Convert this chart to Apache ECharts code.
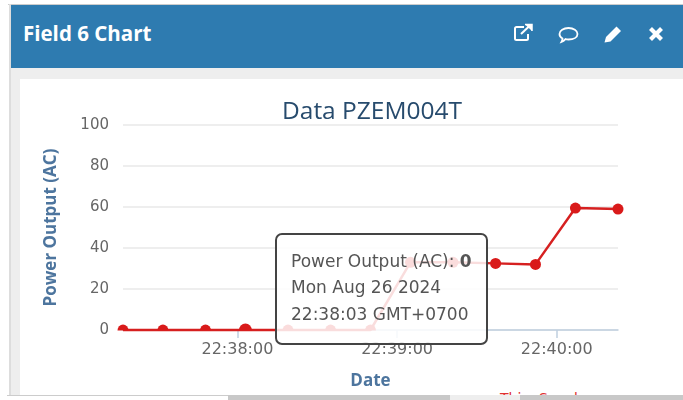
<!DOCTYPE html>
<html>
<head>
<meta charset="utf-8">
<title>Field 6 Chart</title>
<script src="https://cdn.jsdelivr.net/npm/echarts@6/dist/echarts.min.js"></script>
<style>
html, body { margin: 0; padding: 0; background: #fff; overflow: hidden; }
#page { position: relative; width: 683px; height: 400px; overflow: hidden; }
#topline { position: absolute; left: 8px; top: 4px; width: 675px; height: 1px; background: #ccc; }
#leftline { position: absolute; left: 9px; top: 4px; width: 2px; height: 391px; background: #ddd; }
#header { position: absolute; left: 11px; top: 5px; width: 672px; height: 63px; background: #2e7bb0; }
#header .name { position: absolute; left: 12px; top: 14px; color: #fff; font: bold 20.5px "Open Sans", sans-serif; }
#header svg { position: absolute; }
#body { position: absolute; left: 11px; top: 68px; width: 672px; height: 327px; background: #eee; }
#card { position: absolute; left: 20px; top: 79px; width: 663px; height: 316px; background: #fff; overflow: hidden; }
#credit { position: absolute; left: 480px; top: 311px; color: #e03030; font: 14px "DejaVu Sans", sans-serif; white-space: nowrap; }
#main { position: absolute; left: 0; top: 0; width: 683px; height: 400px; }
#bottomline { position: absolute; left: 7px; top: 395px; width: 221px; height: 1px; background: #ccc; }
#scrollbar { position: absolute; left: 228px; top: 395px; width: 455px; height: 5px; background: #c8c8c8; }
#thumb { position: absolute; left: 222px; top: 0; width: 70px; height: 5px; background: #eee; }
</style>
</head>
<body>
<div id="page">
  <div id="topline"></div>
  <div id="leftline"></div>
  <div id="body"></div>
  <div id="card"><div id="credit">ThingSpeak.com</div></div>
  <div id="header">
    <div class="name">Field 6 Chart</div>
    <svg style="left:502px;top:18px" width="22" height="20" viewBox="0 0 22 20" fill="none" stroke="#fff" stroke-width="2">
      <path d="M11 4H3.500a1.500 1.500 0 0 0-1.500 1.500V15.500a1.500 1.500 0 0 0 1.500 1.500H13.500a1.500 1.500 0 0 0 1.500-1.500V11"/>
      <path d="M8 11L17 2.500"/><path d="M12 1.500H19V8" fill="#fff" stroke-width="1.500"/>
    </svg>
    <svg style="left:547px;top:20px" width="22" height="20" viewBox="0 0 22 20" fill="none" stroke="#fff" stroke-width="1.800">
      <path d="M4.500 13.500C2.500 12.500 1.500 11 1.500 9C1.500 5.500 5.500 3 10.500 3S19.500 5.500 19.500 9S15.500 14.500 10.500 14.500C9.500 14.500 8.500 14.400 7.500 14.100C6.500 15.500 5 16.500 3.500 17C4.200 15.800 4.500 14.700 4.500 13.500Z"/>
    </svg>
    <svg style="left:592px;top:19px" width="20" height="20" viewBox="0 0 20 20" fill="#fff">
      <path d="M1.500 18.500L3 13L13.500 2.500L18 7L7.500 17.500Z"/>
    </svg>
    <svg style="left:637px;top:21px" width="16" height="16" viewBox="0 0 16 16" stroke="#fff" stroke-width="4.200">
      <path d="M2.500 2.500L13.500 13.500M13.500 2.500L2.500 13.500"/>
    </svg>
  </div>
  <div id="bottomline"></div>
  <div id="scrollbar"><div id="thumb"></div></div>
  <div id="main"></div>
</div>
<script>
var chartTitle = 'Data PZEM004T';
var seriesName = 'Power Output (AC)';
var xAxisName = 'Date';
var times = [
    '22:37:17', '22:37:32', '22:37:48', '22:38:03', '22:38:19', '22:38:35', '22:38:50',
    '22:39:05', '22:39:21', '22:39:37', '22:39:52', '22:40:07', '22:40:23'
];
var powerValues = [0, 0, 0, 0, 0, 0, 0, 33, 33, 32.5, 32, 59.5, 59];
var tickTimes = ['22:38:00', '22:39:00', '22:40:00'];
var activeIndex = 3;
var tipDate = 'Mon Aug 26 2024';
var tipZone = 'GMT+0700';

var datePrefix = '2024-08-26T';
var toMs = function (t) { return new Date(datePrefix + t).getTime(); };
var halfDot = 'path://M0 10A10 10 0 0 1 20 10Z';
var pad = function (n) { return (n < 10 ? '0' : '') + n; };
var clock = function (ms) {
    var d = new Date(ms);
    return pad(d.getHours()) + ':' + pad(d.getMinutes()) + ':' + pad(d.getSeconds());
};

var seriesData = [];
for (var i = 0; i < times.length; i++) {
    var item = { value: [toMs(times[i]), powerValues[i]] };
    // points sitting on the zero line are cut off by the plot edge
    if (powerValues[i] === 0) {
        var big = i === activeIndex;
        item.symbol = halfDot;
        item.symbolSize = big ? [13, 7] : [11, 6];
        item.symbolOffset = [0, big ? -3 : -2.5];
    }
    seriesData.push(item);
}

var myChart = echarts.init(document.getElementById('main'), null, { renderer: 'canvas' });
var option = {
    animation: false,
    textStyle: { fontFamily: 'DejaVu Sans' },
    title: {
        text: chartTitle,
        left: 277,
        top: 95,
        textStyle: { color: '#274b6d', fontSize: 24.5, fontWeight: 'normal', fontFamily: 'Open Sans' }
    },
    tooltip: {
        trigger: 'item',
        alwaysShowContent: true,
        position: [275, 233],
        backgroundColor: 'rgba(255,255,255,0.85)',
        borderColor: '#444',
        borderWidth: 2,
        borderRadius: 7,
        padding: 0,
        transitionDuration: 0,
        showDelay: 0,
        extraCssText: 'box-shadow:none;width:209px;height:108px;box-sizing:content-box;',
        formatter: function (p) {
            var line = 'position:absolute;left:14px;white-space:nowrap;font:17px DejaVu Sans,sans-serif;color:#555;';
            return '<div style="' + line + 'top:16px">' + p.seriesName + ': <b>' + p.value[1] + '</b></div>' +
                '<div style="' + line + 'top:42px">' + tipDate + '</div>' +
                '<div style="' + line + 'top:69px">' + clock(p.value[0]) + ' ' + tipZone + '</div>';
        }
    },
    grid: { left: 123, right: 65, top: 125, bottom: 70 },
    xAxis: {
        type: 'value',
        min: toMs(times[0]),
        max: toMs(times[times.length - 1]),
        name: xAxisName,
        nameLocation: 'middle',
        nameGap: 43,
        nameTextStyle: { color: '#4d759e', fontSize: 17, fontWeight: 'bold', fontFamily: 'Open Sans' },
        axisLine: { lineStyle: { color: '#c0d0e0', width: 1.5 } },
        axisTick: { show: true, length: 8, lineStyle: { color: '#c0d0e0', width: 1.5 }, customValues: tickTimes.map(toMs) },
        splitLine: { show: false },
        axisLabel: {
            color: '#666',
            fontSize: 16,
            margin: 12,
            customValues: tickTimes.map(toMs),
            formatter: function (v) { return clock(v); }
        }
    },
    yAxis: {
        type: 'value',
        min: 0,
        max: 100,
        interval: 20,
        name: seriesName,
        nameLocation: 'middle',
        nameRotate: 90,
        nameGap: 63,
        nameTextStyle: { color: '#4d759e', fontSize: 17, fontWeight: 'bold', fontFamily: 'Open Sans' },
        axisLine: { show: false },
        axisTick: { show: false },
        axisLabel: { color: '#666', fontSize: 15, margin: 14 },
        splitLine: { lineStyle: { color: '#e8e8e8', width: 1.5 } }
    },
    series: [{
        name: seriesName,
        type: 'line',
        data: seriesData,
        clip: false,
        symbol: 'circle',
        symbolSize: 11,
        showAllSymbol: true,
        lineStyle: { color: '#d62020', width: 2.5 },
        itemStyle: { color: '#d91a1a' },
        emphasis: { scale: false, lineStyle: { width: 2.5 } }
    }]
};
myChart.setOption(option);
myChart.dispatchAction({ type: 'showTip', seriesIndex: 0, dataIndex: activeIndex });
</script>
</body>
</html>
